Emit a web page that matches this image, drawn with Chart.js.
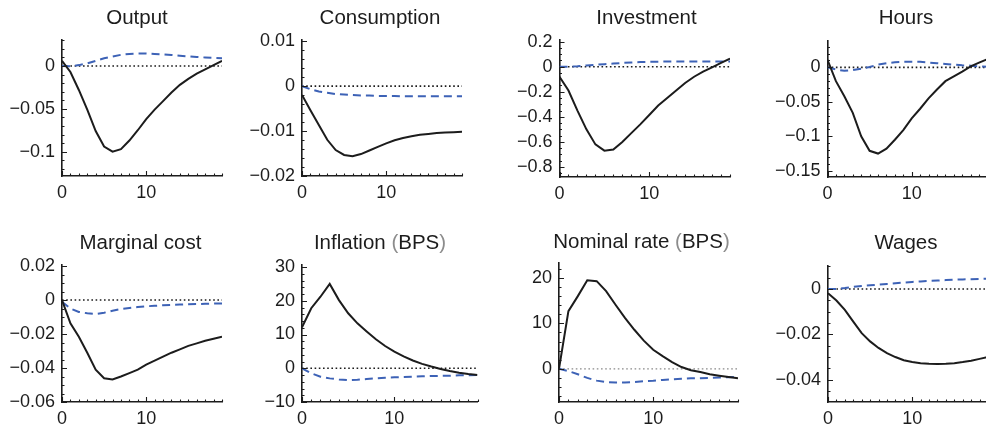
<!DOCTYPE html>
<html>
<head>
<meta charset="utf-8">
<script src="https://cdn.jsdelivr.net/npm/chart.js@4.4.1/dist/chart.umd.min.js"></script>
<style>
  html, body { margin: 0; padding: 0; background: #fff; }
  #fig { position: relative; width: 986px; height: 426px; overflow: hidden; }
  #fig canvas { position: absolute; }
</style>
</head>
<body>
<div id="fig"></div>
<script>
// quarters after the shock
const periods = [0, 1, 2, 3, 4, 5, 6, 7, 8, 9, 10, 11, 12, 13, 14, 15, 16, 17, 18, 19];

// solid = main model, dashed = alternative
const outputMain = [0.006, -0.007, -0.028, -0.051, -0.076, -0.094, -0.100, -0.097, -0.087, -0.075, -0.062, -0.051, -0.041, -0.031, -0.022, -0.015, -0.009, -0.004, 0.001, 0.006];
const outputAlt = [0, -0.0005, 0.001, 0.003, 0.006, 0.009, 0.011, 0.013, 0.014, 0.0145, 0.0145, 0.014, 0.0135, 0.0128, 0.012, 0.0112, 0.0105, 0.0099, 0.0094, 0.009];

const consumptionMain = [-0.0020, -0.0054, -0.0087, -0.0120, -0.0143, -0.0154, -0.0157, -0.0152, -0.0144, -0.0136, -0.0128, -0.0121, -0.0116, -0.0112, -0.0109, -0.0107, -0.0105, -0.0104, -0.0103, -0.0102];
const consumptionAlt = [0, -0.0007, -0.0012, -0.0015, -0.0018, -0.0019, -0.0020, -0.0021, -0.0021, -0.0022, -0.0022, -0.0022, -0.0023, -0.0023, -0.0023, -0.0023, -0.0023, -0.0023, -0.0023, -0.0023];

const investmentMain = [-0.08, -0.19, -0.35, -0.50, -0.62, -0.67, -0.66, -0.60, -0.53, -0.46, -0.385, -0.31, -0.25, -0.19, -0.13, -0.08, -0.04, -0.005, 0.03, 0.065];
const investmentAlt = [0, 0, 0.004, 0.01, 0.015, 0.02, 0.025, 0.03, 0.034, 0.037, 0.039, 0.04, 0.041, 0.042, 0.042, 0.042, 0.042, 0.042, 0.042, 0.042];

const hoursMain = [0.011, -0.020, -0.042, -0.066, -0.100, -0.121, -0.125, -0.118, -0.105, -0.091, -0.074, -0.060, -0.045, -0.032, -0.020, -0.013, -0.006, 0.0015, 0.007, 0.012];
const hoursAlt = [0, -0.003, -0.005, -0.004, -0.002, 0.0005, 0.004, 0.006, 0.0075, 0.008, 0.008, 0.008, 0.007, 0.006, 0.005, 0.004, 0.003, 0.0025, 0.0015, 0.001];

const mcMain = [0.0, -0.0137, -0.0216, -0.031, -0.041, -0.046, -0.0467, -0.045, -0.043, -0.041, -0.038, -0.0357, -0.0333, -0.031, -0.029, -0.027, -0.0255, -0.024, -0.0228, -0.0216];
const mcAlt = [-0.001, -0.005, -0.007, -0.0078, -0.0082, -0.0075, -0.0063, -0.0053, -0.0047, -0.0041, -0.0037, -0.0034, -0.0031, -0.0029, -0.0027, -0.0025, -0.0024, -0.0022, -0.0021, -0.002];

const inflationMain = [12.1, 17.8, 21.2, 25.0, 20.2, 16.3, 13.3, 10.9, 8.6, 6.6, 4.9, 3.5, 2.3, 1.3, 0.5, -0.2, -0.8, -1.3, -1.7, -2.0];
const inflationAlt = [0, -1.5, -2.5, -3.0, -3.3, -3.5, -3.4, -3.2, -3.0, -2.85, -2.7, -2.6, -2.5, -2.4, -2.3, -2.25, -2.2, -2.1, -2.05, -2.0];

const nominalMain = [0, 12.7, 16.0, 19.5, 19.3, 17.1, 14.1, 11.2, 8.6, 6.2, 4.2, 2.8, 1.5, 0.4, -0.3, -0.7, -1.2, -1.5, -1.8, -2.1];
const nominalAlt = [0, -0.5, -1.2, -2.0, -2.6, -2.9, -3.0, -3.0, -2.9, -2.7, -2.6, -2.45, -2.3, -2.2, -2.1, -2.05, -2.0, -1.9, -1.85, -1.8];

const wagesMain = [-0.0019, -0.0051, -0.0092, -0.0144, -0.0195, -0.0231, -0.026, -0.0283, -0.030, -0.0314, -0.0322, -0.0327, -0.033, -0.0331, -0.033, -0.0327, -0.0322, -0.0316, -0.0308, -0.030];
const wagesAlt = [0, 0, 0.0004, 0.0009, 0.0013, 0.0016, 0.0019, 0.0022, 0.0025, 0.0028, 0.0031, 0.0033, 0.0035, 0.0037, 0.0039, 0.0041, 0.0042, 0.0043, 0.0044, 0.0045];

// tick labels
const xTicks = [0, 10];
const outputTicks = [0, -0.05, -0.1];
const consumptionTicks = [0.01, 0, -0.01, -0.02];
const investmentTicks = [0.2, 0, -0.2, -0.4, -0.6, -0.8];
const hoursTicks = [0, -0.05, -0.1, -0.15];
const mcTicks = [0.02, 0, -0.02, -0.04, -0.06];
const inflationTicks = [30, 20, 10, 0, -10];
const nominalTicks = [20, 10, 0];
const wagesTicks = [0, -0.02, -0.04];

// panel layout: plot box (l, t, r, b) on the page, title centre and baseline
const panels = [
  { title: 'Output', main: outputMain, alt: outputAlt, ticks: outputTicks, yMin: -0.1284, yMax: 0.0303, yMinor: 0.01, yMajor: 0.05,
    box: [62, 40, 222, 176], tx: 137, ty: 24 },
  { title: 'Consumption', main: consumptionMain, alt: consumptionAlt, ticks: consumptionTicks, yMin: -0.0201, yMax: 0.0103, yMinor: 0.002, yMajor: 0.01,
    box: [302, 40, 462, 176], tx: 380, ty: 23.5 },
  { title: 'Investment', main: investmentMain, alt: investmentAlt, ticks: investmentTicks, yMin: -0.88, yMax: 0.213, yMinor: 0.05, yMajor: 0.2,
    box: [559.5, 40, 730, 176.5], tx: 646.5, ty: 23.5 },
  { title: 'Hours', main: hoursMain, alt: hoursAlt, ticks: hoursTicks, yMin: -0.159, yMax: 0.039, yMinor: 0.01, yMajor: 0.05,
    box: [827.5, 40.5, 987.5, 176.5], tx: 906, ty: 24 },
  { title: 'Marginal cost', main: mcMain, alt: mcAlt, ticks: mcTicks, yMin: -0.06, yMax: 0.0206, yMinor: 0.005, yMajor: 0.02,
    box: [62, 265, 222, 402], tx: 140.5, ty: 249.3 },
  { title: 'Inflation (BPS)', main: inflationMain, alt: inflationAlt, ticks: inflationTicks, yMin: -10, yMax: 30.6, yMinor: 2, yMajor: 10,
    box: [302, 265, 477.5, 402], tx: 380, ty: 249 },
  { title: 'Nominal rate (BPS)', main: nominalMain, alt: nominalAlt, ticks: nominalTicks, yMin: -7.3, yMax: 23.4, yMinor: 2, yMajor: 10,
    box: [559, 262.5, 738, 402], tx: 641.5, ty: 247.7, zeroColor: '#8a8a8a', zeroWidth: 1.1 },
  { title: 'Wages', main: wagesMain, alt: wagesAlt, ticks: wagesTicks, yMin: -0.0498, yMax: 0.0101, yMinor: 0.005, yMajor: 0.02,
    box: [828, 266, 988, 402], tx: 906, ty: 249 }
];

const INK = '#1c1c1c';
const BLUE = '#3d62b6';
const FONT = '"Liberation Sans", Arial, Helvetica, sans-serif';

function fmt(v) {
  if (v === 0) return '0';
  return (v < 0 ? '\u2212' : '') + String(Math.abs(v));
}

function onStep(v, step) {
  const q = v / step;
  return Math.abs(q - Math.round(q)) < 1e-6;
}

// minor/major ticks drawn inward + panel title
const panelDecor = {
  id: 'panelDecor',
  afterDatasetsDraw(chart, args, o) {
    const { ctx, chartArea: ca, scales: { x, y } } = chart;
    ctx.save();
    ctx.strokeStyle = INK;
    ctx.lineWidth = 1.1;
    ctx.beginPath();
    for (let k = 0; k <= Math.floor(x.max + 1e-9); k++) {
      const px = Math.round(x.getPixelForValue(k)) + 0.5;
      const len = onStep(k, 10) ? 5 : 2.5;
      ctx.moveTo(px, ca.bottom);
      ctx.lineTo(px, ca.bottom - len);
    }
    const k0 = Math.ceil(y.min / o.yMinor - 1e-6);
    const k1 = Math.floor(y.max / o.yMinor + 1e-6);
    for (let k = k0; k <= k1; k++) {
      const v = k * o.yMinor;
      const py = Math.round(y.getPixelForValue(v)) + 0.5;
      const len = onStep(v, o.yMajor) ? 5 : 2.5;
      ctx.moveTo(ca.left, py);
      ctx.lineTo(ca.left + len, py);
    }
    ctx.stroke();

    // title, brackets in grey
    ctx.font = '20.5px ' + FONT;
    ctx.textBaseline = 'alphabetic';
    ctx.textAlign = 'left';
    const parts = o.title.split(/([()])/).filter(s => s.length);
    const total = parts.reduce((w, s) => w + ctx.measureText(s).width, 0);
    let cx = o.tx - o.offX - total / 2;
    const cy = o.ty - o.offY;
    parts.forEach(s => {
      ctx.fillStyle = (s === '(' || s === ')') ? '#8c8c8c' : INK;
      ctx.fillText(s, cx, cy);
      cx += ctx.measureText(s).width;
    });
    ctx.restore();
  }
};

const fig = document.getElementById('fig');

panels.forEach(p => {
  const [l, t, r, b] = p.box;
  const left = Math.floor(l) - 62;
  const top = Math.floor(t) - 40;
  const axisH = 24;
  const width = Math.ceil(r) - left + 4;
  const height = Math.ceil(b) - top + axisH;
  const yW = l - left;
  const padTop = t - top;
  const padRight = width - (r - left);

  const cv = document.createElement('canvas');
  cv.width = width;
  cv.height = height;
  cv.style.left = left + 'px';
  cv.style.top = top + 'px';
  cv.style.width = width + 'px';
  cv.style.height = height + 'px';
  fig.appendChild(cv);

  const pts = arr => periods.map((q, i) => ({ x: q, y: arr[i] }));

  new Chart(cv, {
    type: 'line',
    data: {
      datasets: [
        { data: pts(p.main), borderColor: INK, borderWidth: 2, tension: 0, pointRadius: 0 },
        { data: pts(p.alt), borderColor: BLUE, borderWidth: 2, borderDash: [8, 5], tension: 0, pointRadius: 0 },
        { data: periods.map(q => ({ x: q, y: 0 })), borderColor: p.zeroColor || INK, borderWidth: p.zeroWidth || 1.6,
          borderDash: [1.6, 2.6], tension: 0, pointRadius: 0 }
      ]
    },
    options: {
      responsive: false,
      animation: false,
      devicePixelRatio: 1,
      layout: { padding: { top: padTop, right: padRight, left: 0, bottom: 0 } },
      plugins: {
        legend: { display: false },
        tooltip: { enabled: false },
        panelDecor: { title: p.title, tx: p.tx, ty: p.ty, offX: left, offY: top, yMinor: p.yMinor, yMajor: p.yMajor }
      },
      scales: {
        x: {
          type: 'linear',
          min: 0,
          max: 19,
          grid: { drawOnChartArea: false, drawTicks: false },
          border: { display: true, color: INK, width: 1.6 },
          ticks: { padding: 6, color: INK, font: { family: FONT, size: 18 }, maxRotation: 0, callback: v => fmt(v) },
          afterBuildTicks: s => { s.ticks = xTicks.map(v => ({ value: v })); },
          afterFit: s => { s.height = axisH; }
        },
        y: {
          type: 'linear',
          min: p.yMin,
          max: p.yMax,
          grid: { drawOnChartArea: false, drawTicks: false },
          border: { display: true, color: INK, width: 1.6 },
          ticks: { padding: 7, color: INK, font: { family: FONT, size: 18 }, callback: v => fmt(v) },
          afterBuildTicks: s => { s.ticks = p.ticks.map(v => ({ value: v })); },
          afterFit: s => { s.width = yW; }
        }
      }
    },
    plugins: [panelDecor]
  });
});
</script>
</body>
</html>
